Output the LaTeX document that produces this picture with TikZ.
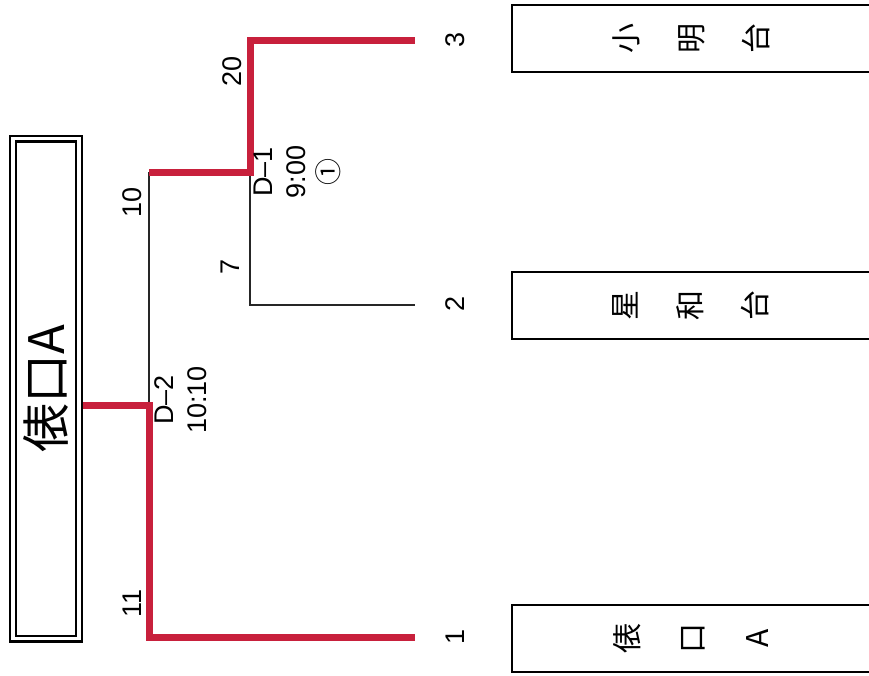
\documentclass[tikz,border=0pt]{standalone}
\usepackage{fontspec}
\usepackage{tikz}
\setmainfont{Liberation Sans}
\newfontfamily\jp{Noto Sans CJK JP}
\definecolor{winred}{RGB}{200,32,60}

\tikzset{
  win/.style={draw=winred, line width=7pt},
  lose/.style={draw=black!85, line width=2.2pt},
  num/.style={rotate=90, inner sep=0pt, font=\fontsize{27}{33}\selectfont},
  match/.style={num, align=center},
  team/.style={draw, line width=2.2pt, rotate=90, minimum width=67pt, minimum height=358pt,
    inner sep=0pt, align=center, font=\jp\fontsize{30}{65}\selectfont},
  champ/.style={draw, double, line width=2.2pt, double distance=3.6pt, rotate=90,
    minimum width=500pt, minimum height=65.5pt, outer sep=4pt, font=\jp\fontsize{49}{50}\selectfont}
}

\begin{document}
\begin{tikzpicture}[x=1pt, y=-1pt]
    \fill[white] (0,0) rectangle (869,675);
    \useasboundingbox (0,0) rectangle (869,675);
    % teams
    \node[team] (t3) at (691,38.5) {小\\明\\台};
    \node[team] (t2) at (691,305.5) {星\\和\\台};
    \node[team] (t1) at (691,638.5) {俵\\口\\A};
    \foreach \s/\y in {1/637, 2/304, 3/40}
      \node[num] (s\s) at (455,\y) {\s};
    % winner
    \node[champ] (champ) at (46,388.5) {俵口A};
    % bracket
    \coordinate (m1) at (250,172);
    \coordinate (m2) at (149,405);
    \coordinate (e1) at (415,637);
    \coordinate (e2) at (415,305);
    \coordinate (e3) at (415,40);
    \draw[lose] (m2) -- (m2 |- m1);
    \draw[lose] (m1) |- (e2);
    \draw[win] (champ.south |- m2) -- (m2) |- (e1);
    \draw[win] (m2 |- m1) -- (m1) |- (e3);
    % scores
    \node[num] (sc20) at (232,71) {20};
    \node[num] (sc7) at (230,267) {7};
    \node[num] (sc10) at (132,202) {10};
    \node[num] (sc11) at (132,603) {11};
    \node[match] (d1) at (297,172) {D–1\\9:00\\{\jp ①}};
    \node[match] (d2) at (181,400) {D–2\\10:10};
\end{tikzpicture}
\end{document}
